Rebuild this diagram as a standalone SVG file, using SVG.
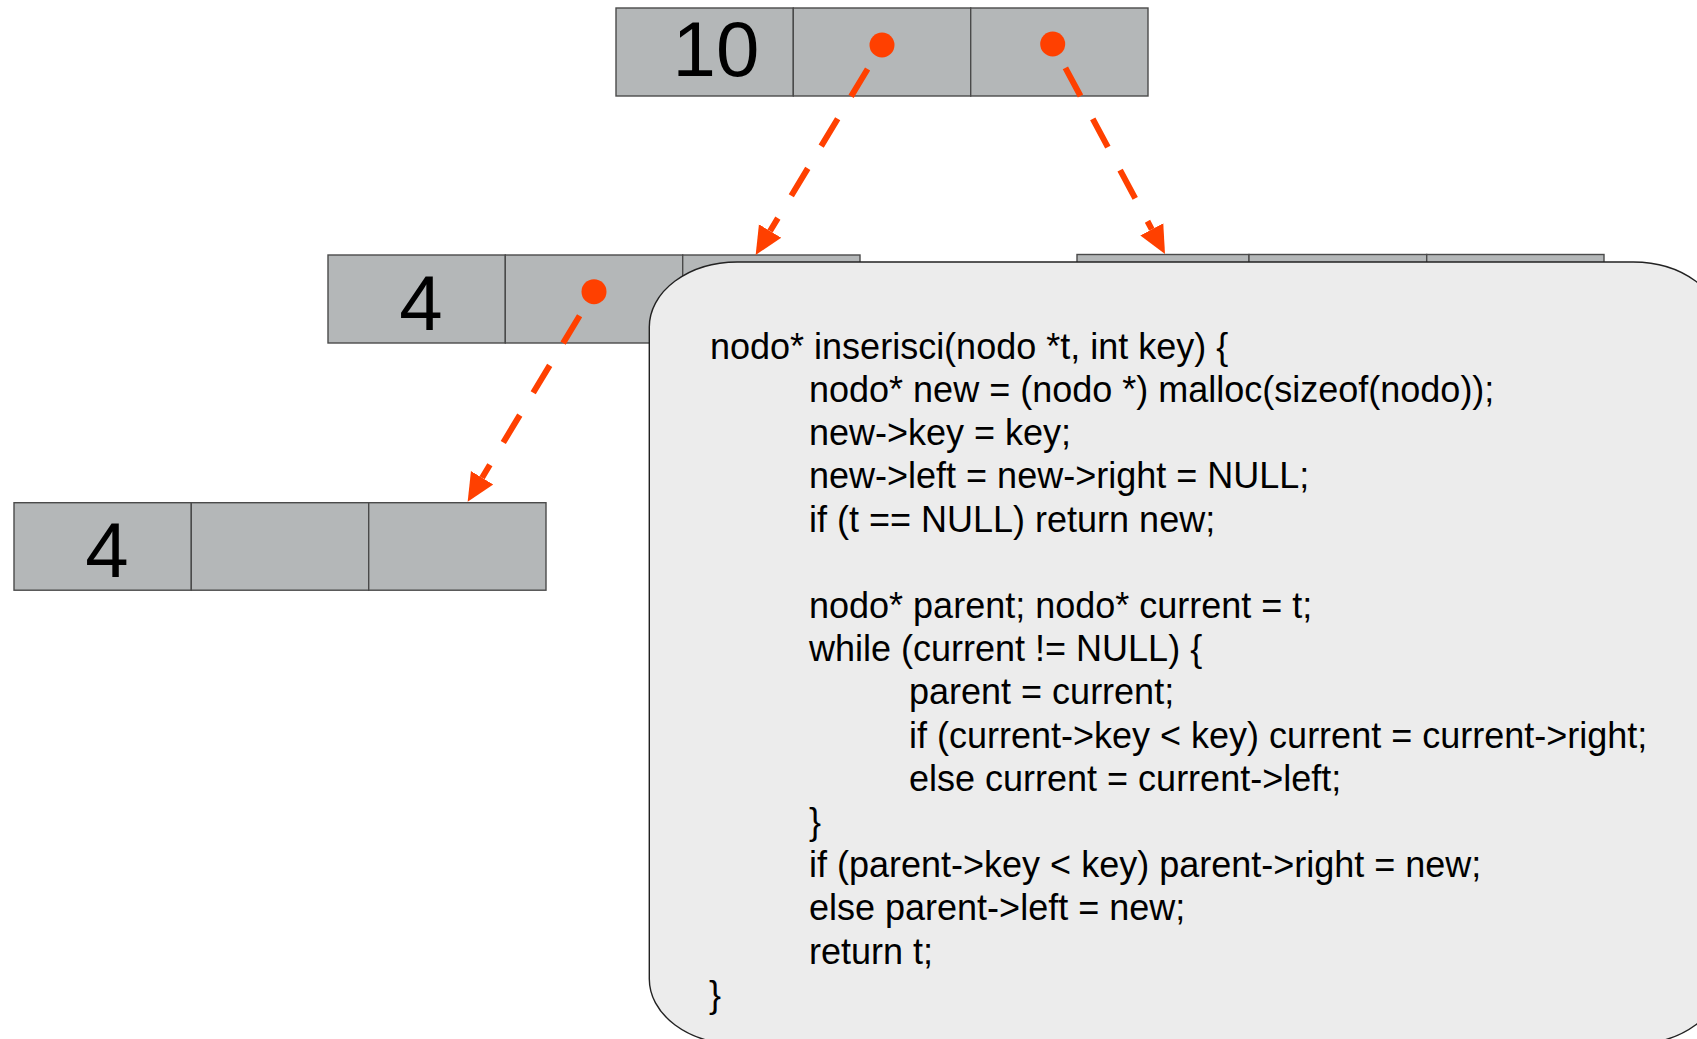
<svg xmlns="http://www.w3.org/2000/svg" width="1697" height="1039" viewBox="0 0 1697 1039">
  <style>
    .cell { fill: #b4b7b8; stroke: #4a4a4a; stroke-width: 1.4; }
    .key { font-family: "Liberation Sans", Arial, sans-serif; font-size: 78px; fill: #000; text-anchor: middle; }
    .dot { fill: #ff4000; }
    .ptr { fill: none; stroke: #ff4000; stroke-width: 6; stroke-dasharray: 32 26; marker-end: url(#head); }
    .code { font-family: "Liberation Sans", Arial, sans-serif; font-size: 36px; fill: #000; }
    .box { fill: #ececec; stroke: #222; stroke-width: 1.4; }
  </style>
  <defs>
    <marker id="head" markerUnits="userSpaceOnUse" markerWidth="30" markerHeight="30" viewBox="0 -15 30 30" refX="0" refY="0" orient="auto">
      <path d="M0,-13 L28,0 L0,13 z" fill="#ff4000"/>
    </marker>
  </defs>
  <rect width="1697" height="1039" fill="#ffffff"/>

  <g id="node-10">
    <rect class="cell" x="616" y="8" width="177.3" height="88"/>
    <rect class="cell" x="793.3" y="8" width="177.4" height="88"/>
    <rect class="cell" x="970.7" y="8" width="177.3" height="88"/>
    <text class="key" x="716" y="76">10</text>
    <circle class="dot" cx="882" cy="45" r="12.5"/>
    <circle class="dot" cx="1052.7" cy="44" r="12.5"/>
  </g>

  <g id="node-4-left">
    <rect class="cell" x="328" y="255" width="177.3" height="88"/>
    <rect class="cell" x="505.3" y="255" width="177.4" height="88"/>
    <rect class="cell" x="682.7" y="255" width="177.3" height="88"/>
    <text class="key" x="421" y="329.5">4</text>
    <circle class="dot" cx="594" cy="291.7" r="12.5"/>
  </g>

  <g id="node-right">
    <rect class="cell" x="1077" y="254.5" width="172" height="88"/>
    <rect class="cell" x="1249" y="254.5" width="177.7" height="88"/>
    <rect class="cell" x="1426.7" y="254.5" width="177.3" height="88"/>
  </g>

  <g id="node-4-bottom">
    <rect class="cell" x="14" y="502.7" width="177.3" height="87.5"/>
    <rect class="cell" x="191.3" y="502.7" width="177.4" height="87.5"/>
    <rect class="cell" x="368.7" y="502.7" width="177.3" height="87.5"/>
    <text class="key" x="107" y="577">4</text>
  </g>

  <g id="connectors">
    <line class="ptr" x1="867.6" y1="69" x2="770.1" y2="231"/>
    <line class="ptr" x1="1065.4" y1="67.8" x2="1151.8" y2="229.3"/>
    <line class="ptr" x1="579.6" y1="315.7" x2="482.1" y2="477.7"/>
  </g>

  <g id="code-box">
    <rect class="box" x="649.3" y="262" width="1072" height="782" rx="88" ry="65"/>
    <text class="code" x="710" y="358.8">nodo* inserisci(nodo *t, int key) {</text>
    <text class="code" x="809" y="402">nodo* new = (nodo *) malloc(sizeof(nodo));</text>
    <text class="code" x="809" y="445.2">new-&gt;key = key;</text>
    <text class="code" x="809" y="488.4">new-&gt;left = new-&gt;right = NULL;</text>
    <text class="code" x="809" y="531.6">if (t == NULL) return new;</text>
    <text class="code" x="809" y="618">nodo* parent; nodo* current = t;</text>
    <text class="code" x="809" y="661.2">while (current != NULL) {</text>
    <text class="code" x="909" y="704.4">parent = current;</text>
    <text class="code" x="909" y="747.6">if (current-&gt;key &lt; key) current = current-&gt;right;</text>
    <text class="code" x="909" y="790.8">else current = current-&gt;left;</text>
    <text class="code" x="809" y="834">}</text>
    <text class="code" x="809" y="877.2">if (parent-&gt;key &lt; key) parent-&gt;right = new;</text>
    <text class="code" x="809" y="920.4">else parent-&gt;left = new;</text>
    <text class="code" x="809" y="963.6">return t;</text>
    <text class="code" x="709" y="1006.8">}</text>
  </g>
</svg>
